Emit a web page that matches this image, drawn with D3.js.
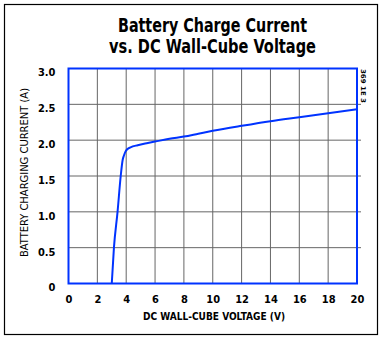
<!DOCTYPE html>
<html><head><meta charset="utf-8">
<script src="https://cdn.jsdelivr.net/npm/d3@7"></script>
<style>
body{margin:0;background:#fff;}
svg{display:block;}
.nar{font-family:"Liberation Sans Narrow","Arial Narrow","DejaVu Sans Condensed",sans-serif;font-weight:bold;}
</style></head><body>
<svg id="c" width="383" height="341"></svg>
<script>
const titleLines = ["Battery Charge Current", "vs. DC Wall-Cube Voltage"];
const xLabel = "DC WALL-CUBE VOLTAGE (V)";
const yLabel = "BATTERY CHARGING CURRENT (A)";
const figId = "369 1E 3";
const xTicks = [0,2,4,6,8,10,12,14,16,18,20];
const yTicks = [0,0.5,1.0,1.5,2.0,2.5,3.0];
const voltage = [3.0,3.15,3.4,3.62,3.75,3.85,3.95,4.05,4.3,4.8,5.5,6,7,8,9,10,12,14,16,18,20];
const current = [0,0.5,1.0,1.5,1.72,1.79,1.84,1.87,1.90,1.93,1.96,1.98,2.02,2.05,2.09,2.13,2.20,2.265,2.32,2.375,2.43];

const svg = d3.select("#c");
const L=68.5,R=357,T=68.5,B=283.5;
const x = d3.scaleLinear().domain([0,20]).range([L,R]);
const y = d3.scaleLinear().domain([0,3]).range([B,T]);
const blue="#0033ff";

// outer frame
svg.append("rect").attr("x",4.5).attr("y",4.5).attr("width",373).attr("height",330)
  .attr("fill","none").attr("stroke","#000").attr("stroke-width",1.2);

// title
const tw=[189,207], tb=[32,52.5];
titleLines.forEach((t,i)=>{
  svg.append("text").attr("class","nar").attr("x",212.5).attr("y",tb[i])
    .attr("text-anchor","middle").attr("font-size",19).attr("fill","#000")
    .attr("textLength",tw[i]).attr("lengthAdjust","spacingAndGlyphs").text(t);
});

// grid
svg.append("g").selectAll("line").data(xTicks.slice(1,-1)).join("line")
  .attr("x1",d=>x(d)).attr("x2",d=>x(d)).attr("y1",T).attr("y2",B)
  .attr("stroke","#666").attr("stroke-width",1);
svg.append("g").selectAll("line").data(yTicks.slice(1,-1)).join("line")
  .attr("x1",L).attr("x2",R+4).attr("y1",d=>y(d)).attr("y2",d=>y(d))
  .attr("stroke","#666").attr("stroke-width",1);

// axes labels via d3 axes
const xa = svg.append("g").attr("transform",`translate(0,${B})`)
  .call(d3.axisBottom(x).tickValues(xTicks).tickSize(0).tickPadding(12).tickFormat(d3.format("d")));
xa.select(".domain").remove();
xa.selectAll("text").attr("class","nar").attr("font-size",11).attr("fill","#000");

const ya = svg.append("g").attr("transform",`translate(${L},0)`)
  .call(d3.axisLeft(y).tickValues(yTicks).tickSize(0).tickPadding(13).tickFormat(d=>d===0?"0":d3.format(".1f")(d)));
ya.select(".domain").remove();
ya.selectAll("text").attr("class","nar").attr("font-size",11).attr("fill","#000").attr("dy","0.68em");

// plot frame
svg.append("rect").attr("x",L).attr("y",T).attr("width",R-L).attr("height",B-T)
  .attr("fill","none").attr("stroke",blue).attr("stroke-width",2);

// curve
const pts = voltage.map((v,i)=>[v,current[i]]);
svg.append("path").datum(pts)
  .attr("d",d3.line().x(d=>x(d[0])).y(d=>y(d[1])).curve(d3.curveMonotoneX))
  .attr("fill","none").attr("stroke",blue).attr("stroke-width",2);

// axis titles
svg.append("text").attr("class","nar").attr("x",214).attr("y",320).attr("text-anchor","middle")
  .attr("font-size",11).attr("textLength",142).attr("lengthAdjust","spacingAndGlyphs").text(xLabel);
svg.append("text").attr("transform","translate(28,172.5) rotate(-90)").attr("text-anchor","middle")
  .attr("font-family","'Liberation Sans Narrow','DejaVu Sans Condensed',sans-serif").attr("font-size",11)
  .attr("textLength",169).attr("lengthAdjust","spacingAndGlyphs").text(yLabel);

// figure id
svg.append("text").attr("transform","translate(361,86) rotate(90)").attr("text-anchor","middle")
  .attr("font-family","'DejaVu Sans Condensed',sans-serif").attr("font-size",6.5).attr("font-weight","bold")
  .attr("textLength",34).attr("lengthAdjust","spacingAndGlyphs").text(figId);
</script></body></html>
